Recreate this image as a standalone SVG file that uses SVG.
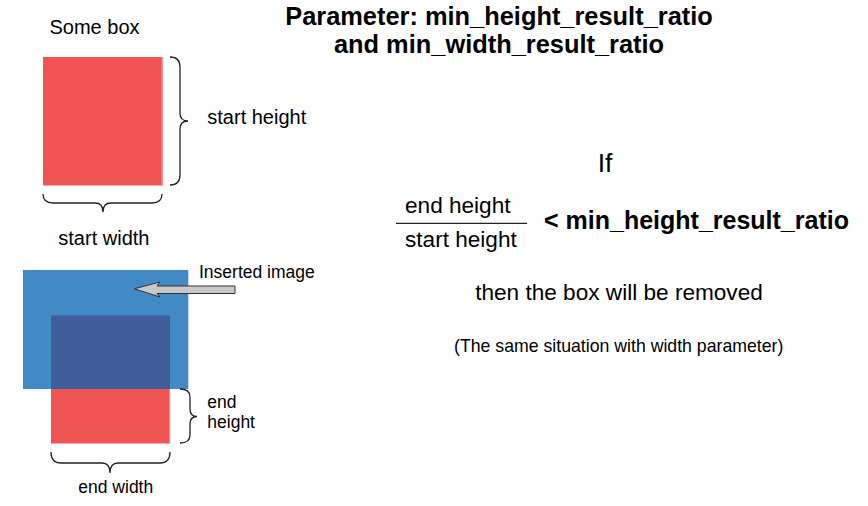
<svg xmlns="http://www.w3.org/2000/svg" width="868" height="506" viewBox="0 0 868 506">
<style>
text{font-family:"Liberation Sans",Arial,sans-serif;fill:#000}
.b{font-weight:bold}
.brace{fill:none;stroke:#222;stroke-width:1.3}
.red{fill:#f15454}
</style>
<rect width="868" height="506" fill="#fff"/>
<g id="title">
<text class="b" x="499" y="25" font-size="25.4" text-anchor="middle">Parameter: min_height_result_ratio</text>
<text class="b" x="499" y="53" font-size="25.4" text-anchor="middle">and min_width_result_ratio</text>
</g>
<g id="some-box">
<text x="49.5" y="34" font-size="20">Some box</text>
<rect class="red" x="43" y="57" width="119.5" height="128.5"/>
<rect x="161.5" y="57" width="1.2" height="128.5" fill="#f78a8a"/>
</g>
<g id="start-height">
<path class="brace" d="M170,57 Q180,57 180,67 L180,113 Q180,121 188,121 Q180,121 180,129 L180,175 Q180,185 170,185"/>
<text x="207.3" y="124.3" font-size="20">start height</text>
</g>
<g id="start-width">
<path class="brace" d="M43,194 Q43,203 53,203 L95,203 Q103,203 103,212 Q103,203 111,203 L152,203 Q162,203 162,194"/>
<text x="58.3" y="245" font-size="20">start width</text>
</g>
<g id="end-box">
<rect class="red" x="51" y="315.5" width="119" height="128"/>
<rect x="169" y="389" width="1.2" height="54.5" fill="#f78a8a"/>
</g>
<g id="inserted-image">
<rect x="23" y="270" width="165.3" height="119" fill="#0061b2" fill-opacity="0.74"/>
</g>
<g id="connectors">
<polygon points="134.3,288.8 160,282 157,286 235,286 235,293.5 157,293.5 160,297" fill="#c8c8c8" stroke="#333" stroke-width="1"/>
</g>
<g id="inserted-label">
<text x="199" y="277.7" font-size="17.5">Inserted image</text>
</g>
<g id="end-height">
<path class="brace" d="M180,389 Q190,389 190,397 L190,409 Q190,416.5 197,416.5 Q190,416.5 190,424 L190,435 Q190,443 180,443"/>
<text x="207.3" y="408.3" font-size="17.5">end</text>
<text x="207.3" y="428.3" font-size="17.5">height</text>
</g>
<g id="end-width">
<path class="brace" d="M51,452 Q51,463 61,463 L102,463 Q110,463 110,473 Q110,463 118,463 L160,463 Q170,463 170,452"/>
<text x="78.3" y="493.3" font-size="17.5">end width</text>
</g>
<g id="condition">
<text x="605" y="172.3" font-size="26.5" text-anchor="middle">If</text>
<text x="405" y="213.3" font-size="22.6">end height</text>
<line x1="396" y1="223.3" x2="527" y2="223.3" stroke="#222" stroke-width="1.3"/>
<text x="405" y="246.7" font-size="22.6">start height</text>
<text class="b" x="544" y="229.3" font-size="25">&lt; min_height_result_ratio</text>
<text x="619" y="300" font-size="22.6" text-anchor="middle">then the box will be removed</text>
<text x="618.7" y="352.3" font-size="17.7" text-anchor="middle">(The same situation with width parameter)</text>
</g>
</svg>
